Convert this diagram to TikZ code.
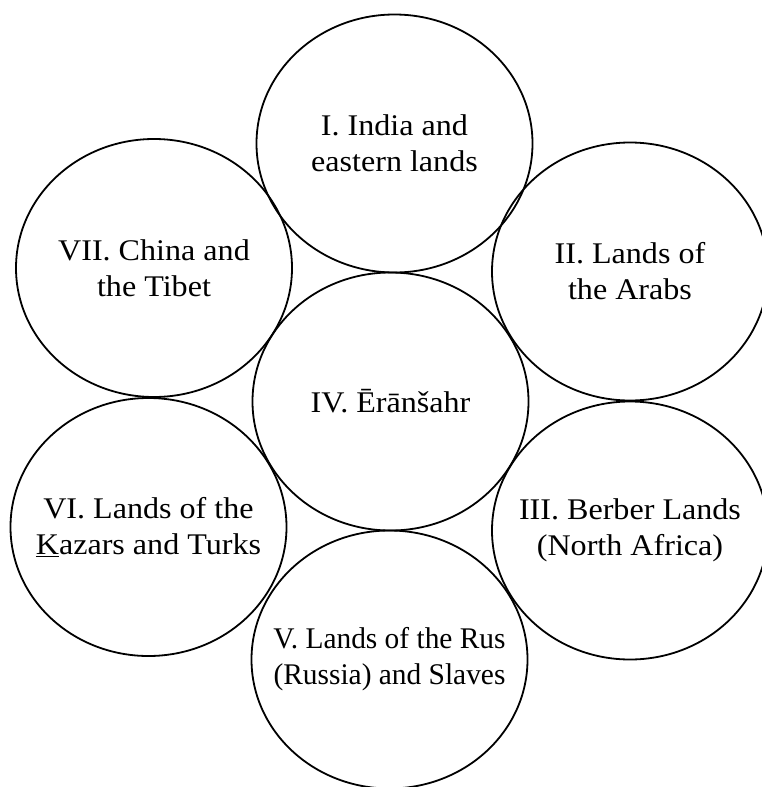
\documentclass[tikz,border=0pt]{standalone}
\usepackage{fontspec}
\setmainfont{Liberation Serif}[FakeStretch=1.07]
\newfontfamily\narrowserif{Liberation Serif}[FakeStretch=0.98]
\begin{document}
\begin{tikzpicture}[x=1pt, y=-1pt,
  land/.style={line width=1.8pt},
  lbl/.style={align=center, font=\fontsize{30}{36}\selectfont}]
\useasboundingbox (0,0) rectangle (761,787);

% Centre region
\node[lbl] (eran) at (390.5,401.5) {IV. Ērānšahr};

% Outer regions
\node[lbl] (india) at (394.5,143.5) {I. India and\\eastern lands};
\node[lbl] (arabs) at (630,271.5) {II. Lands of\\the Arabs};
\node[lbl] (berber) at (630,530.5) {III. Berber Lands\\(North Africa)};
\node[lbl, font=\fontsize{30}{36}\narrowserif] (rus) at (389.5,659.5) {V. Lands of the Rus\\(Russia) and Slaves};
\node[lbl] (kazar) at (148.5,527) {VI. Lands of the\\\underline{K}azars and Turks};
\node[lbl] (china) at (154,268) {VII. China and\\the Tibet};

% Rings
\foreach \n in {eran,india,arabs,berber,rus,kazar,china}
  \draw[land] (\n.center) ellipse [x radius=138, y radius=129];
\end{tikzpicture}
\end{document}
